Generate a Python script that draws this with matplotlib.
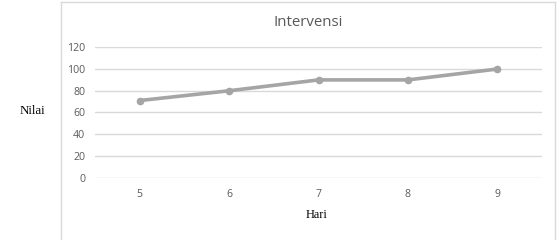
import matplotlib
matplotlib.use("Agg")
import matplotlib.pyplot as plt
from matplotlib.lines import Line2D

days = [5, 6, 7, 8, 9]
values = [71, 80, 90, 90, 100]
y_ticks = [0, 20, 40, 60, 80, 100, 120]
title = "Intervensi"
x_label = "Hari"
y_label = "Nilai"

W, H = 557, 240
fig = plt.figure(figsize=(W / 100, H / 100), dpi=100)
fig.patch.set_facecolor("white")

# chart frame
border = "#D9D9D9"
fig.add_artist(Line2D([60.5 / W, 60.5 / W], [0, 1 - 2 / H], color=border, lw=1.0, transform=fig.transFigure))
fig.add_artist(Line2D([60.5 / W, 555 / W], [1 - 2 / H, 1 - 2 / H], color=border, lw=1.0, transform=fig.transFigure))
fig.add_artist(Line2D([555 / W, 555 / W], [0, 1 - 2 / H], color=border, lw=1.0, transform=fig.transFigure))

left, right = 95 / W, 542 / W
bottom, top = 1 - 177.7 / H, 1 - 47.3 / H
ax = fig.add_axes([left, bottom, right - left, top - bottom])
ax.set_facecolor("none")

ax.plot(days, values, color="#A5A5A5", lw=2.6, marker="o", ms=4.5,
        markerfacecolor="#A5A5A5", markeredgecolor="#A5A5A5", clip_on=False, solid_capstyle="round", zorder=3)

ax.set_xlim(days[0] - 0.5, days[-1] + 0.5)
ax.set_ylim(y_ticks[0], y_ticks[-1])
ax.set_yticks(y_ticks)
ax.set_xticks(days)
ax.grid(axis="y", color="#D9D9D9", lw=1.0)
ax.set_axisbelow(True)
for s in ax.spines.values():
    s.set_visible(False)
ax.tick_params(axis="both", length=0, labelsize=7.6, labelcolor="#595959")
ax.tick_params(axis="y", pad=7)
ax.tick_params(axis="x", pad=8)
for lab in ax.get_xticklabels() + ax.get_yticklabels():
    lab.set_fontfamily("Open Sans")

fig.text(308 / W, 1 - 22 / H, title, ha="center", va="center", fontsize=10.8,
         color="#595959", family="Open Sans")
fig.text(32.5 / W, 1 - 111 / H, y_label, ha="center", va="center", fontsize=9.3,
         color="black", family="Liberation Serif")
fig.text(317 / W, 1 - 215 / H, x_label, ha="center", va="center", fontsize=8.8,
         color="black", family="Liberation Serif")

fig.savefig("out.png", dpi=100)
